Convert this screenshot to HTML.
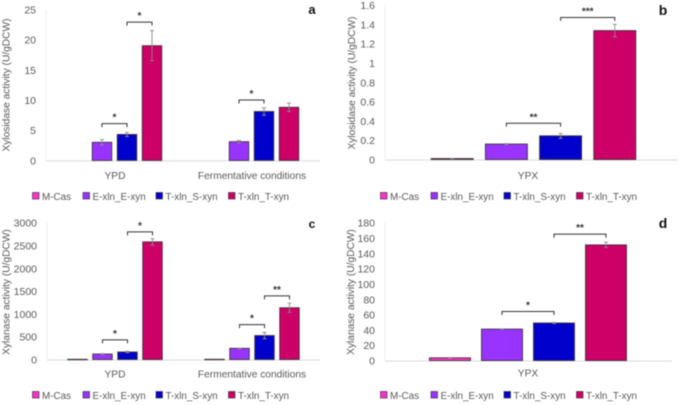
<!DOCTYPE html>
<html>
<head>
<meta charset="utf-8">
<style>
html,body{margin:0;padding:0;background:#fff;width:678px;height:405px;overflow:hidden}
svg{display:block;filter:blur(0.45px)}
text{font-family:"Liberation Sans",sans-serif;fill:#595959}
</style>
</head>
<body>
<svg id="figure" width="678" height="405" viewBox="0 0 678 405" xmlns="http://www.w3.org/2000/svg"></svg>
<script>
const seriesNames = ['M-Cas', 'E-xln_E-xyn', 'T-xln_S-xyn', 'T-xln_T-xyn'];
const seriesColors = ['#ff33cc', '#9933ff', '#0000cc', '#cc0066'];

const aCategories = ['YPD', 'Fermentative conditions'];
const aTicks = [0, 5, 10, 15, 20, 25];
const aValues = [[0, 3, 4.3, 19], [0, 3.1, 8.1, 8.8]];
const aErrors = [[0, 0.45, 0.35, 2.5], [0, 0.2, 0.6, 0.7]];
const aBrackets = [[0, 1, 2, 6.1, '*'], [0, 2, 3, 22.9, '*'], [1, 1, 2, 10, '*']];

const bCategories = ['YPX'];
const bTicks = [0, 0.2, 0.4, 0.6, 0.8, 1, 1.2, 1.4, 1.6];
const bValues = [[0.01, 0.16, 0.245, 1.335]];
const bErrors = [[0.002, 0.005, 0.025, 0.065]];
const bBrackets = [[0, 1, 2, 0.375, '**'], [0, 2, 3, 1.47, '***']];

const cCategories = ['YPD', 'Fermentative conditions'];
const cTicks = [0, 500, 1000, 1500, 2000, 2500, 3000];
const cValues = [[5, 120, 165, 2580], [5, 245, 525, 1135]];
const cErrors = [[0, 10, 15, 70], [0, 5, 70, 100]];
const cBrackets = [[0, 1, 2, 430, '*'], [0, 2, 3, 2800, '*'], [1, 1, 2, 765, '*'], [1, 2, 3, 1395, '**']];

const dCategories = ['YPX'];
const dTicks = [0, 20, 40, 60, 80, 100, 120, 140, 160, 180];
const dValues = [[3.5, 41, 49, 151]];
const dErrors = [[0.3, 0.3, 0.7, 3.5]];
const dBrackets = [[0, 1, 2, 64, '*'], [0, 2, 3, 165, '**']];

const svg = document.getElementById('figure');
const NS = 'http://www.w3.org/2000/svg';

function make(tag, attrs, parent, content) {
  const el = document.createElementNS(NS, tag);
  for (const k in attrs) el.setAttribute(k, attrs[k]);
  if (content !== undefined) el.textContent = content;
  parent.appendChild(el);
  return el;
}

function drawPanel(p) {
  const g = make('g', {}, svg);
  
  

  const maxTick = p.ticks[p.ticks.length - 1];
  const yScale = v => p.y0 - (v / maxTick) * (p.y0 - p.yTop);
  const xBar = (groupIndex, seriesIndex) =>
    p.barCenters[groupIndex] + (seriesIndex - 1.5) * p.step;

  const axis = make('line', {x1: p.x0, x2: p.x1, y1: p.y0 + 0.5, y2: p.y0 + 0.5, stroke: '#d9d9d9', 'stroke-width': 1}, g);
  
  

  const axisV = make('line', {x1: p.x0, x2: p.x0, y1: p.yTop, y2: p.y0, stroke: '#f0f0f0', 'stroke-width': 1}, g);
  
  

  p.ticks.forEach(t => {
    const label = make('text', {x: p.x0 - 10, y: yScale(t) + 4, 'text-anchor': 'end', 'font-size': 10.5}, g, String(t));
    
    
  });

  const yTitleY = p.titleY;
  const yTitle = make('text', {x: 0, y: 0, 'text-anchor': 'middle', 'font-size': 10.2, transform: 'translate(' + p.titleX + ',' + yTitleY + ') rotate(-90)'}, g, p.yTitle);
  
  

  p.categories.forEach((c, i) => {
    const label = make('text', {x: p.labelCenters[i], y: p.catY, 'text-anchor': 'middle', 'font-size': 10.2}, g, c);
    
    
  });

  p.values.forEach((row, gi) => {
    row.forEach((v, si) => {
      if (v <= 0) return;
      const cx = xBar(gi, si);
      const top = yScale(v);
      const bar = make('rect', {x: cx - p.barW / 2, y: top, width: p.barW, height: Math.max(p.y0 - top, 0.5), fill: seriesColors[si], stroke: '#40333c', 'stroke-width': 0.9}, g);
      
      
      const e = p.errors[gi][si];
      if (e > 0) {
        const hi = yScale(v + e);
        const lo = yScale(v - e);
        const err = make('path', {d: 'M' + cx + ' ' + lo + 'V' + hi + 'M' + (cx - 2) + ' ' + hi + 'H' + (cx + 2) + 'M' + (cx - 2) + ' ' + lo + 'H' + (cx + 2), stroke: '#8c8c8c', 'stroke-width': 0.9, fill: 'none'}, g);
        
        
      }
    });
  });

  p.brackets.forEach(b => {
    const xa = xBar(b[0], b[1]);
    const xc = xBar(b[0], b[2]);
    const y = yScale(b[3]);
    const br = make('path', {d: 'M' + xa + ' ' + (y + 3.5) + 'V' + y + 'H' + xc + 'V' + (y + 3.5), stroke: '#333', 'stroke-width': 1, fill: 'none'}, g);
    
    
    const star = make('text', {x: (xa + xc) / 2, y: y - 3, 'text-anchor': 'middle', 'font-size': 10, 'font-weight': 'bold', style: 'fill:#333'}, g, b[4]);
    
    
  });

  const letter = make('text', {x: p.letterX, y: p.letterY, 'text-anchor': 'middle', 'font-size': p.letterSize, 'font-weight': 'bold', style: 'fill:#111'}, g, p.letter);
  
  

  const lg = make('g', {}, g);
  
  
  seriesNames.forEach((n, i) => {
    const lx = p.legendX + [0, 50.5, 123.5, 196][i];
    const sw = make('rect', {x: lx, y: p.legendY - 7.5, width: 6.5, height: 6.5, fill: seriesColors[i], stroke: '#40333c', 'stroke-width': 0.7}, lg);
    
    
    const t = make('text', {x: lx + 9.5, y: p.legendY, 'font-size': 9.9}, lg, n);
    
    
  });
}

drawPanel({letter: 'a', categories: aCategories, ticks: aTicks, values: aValues, errors: aErrors, brackets: aBrackets,
  x0: 46, x1: 320, y0: 160.4, yTop: 9.5, barCenters: [114.5, 251.5], labelCenters: [115, 252], step: 25, barW: 19.5, titleX: 9.5, titleY: 85, yTitle: 'Xylosidase activity (U/gDCW)',
  catY: 179, letterX: 312, letterY: 14, letterSize: 13, legendX: 32.5, legendY: 200});
drawPanel({letter: 'b', categories: bCategories, ticks: bTicks, values: bValues, errors: bErrors, brackets: bBrackets,
  x0: 385, x1: 678, y0: 159.5, yTop: 5, barCenters: [533.5], labelCenters: [528], step: 54.2, barW: 42, titleX: 355, titleY: 83, yTitle: 'Xylosidase activity (U/gDCW)',
  catY: 179, letterX: 663, letterY: 15, letterSize: 14, legendX: 380.5, legendY: 200});
drawPanel({letter: 'c', categories: cCategories, ticks: cTicks, values: cValues, errors: cErrors, brackets: cBrackets,
  x0: 47, x1: 320, y0: 359.5, yTop: 222.7, barCenters: [115, 252], labelCenters: [115, 252], step: 25, barW: 19.5, titleX: 9.5, titleY: 292, yTitle: 'Xylanase activity (U/gDCW)',
  catY: 377.5, letterX: 312, letterY: 228, letterSize: 12, legendX: 32.5, legendY: 399});
drawPanel({letter: 'd', categories: dCategories, ticks: dTicks, values: dValues, errors: dErrors, brackets: dBrackets,
  x0: 385, x1: 672, y0: 360.5, yTop: 222.7, barCenters: [528], labelCenters: [528], step: 52, barW: 41, titleX: 354, titleY: 292, yTitle: 'Xylanase activity (U/gDCW)',
  catY: 376.5, letterX: 663, letterY: 228, letterSize: 14, legendX: 380.5, legendY: 399});
</script>
</body>
</html>
